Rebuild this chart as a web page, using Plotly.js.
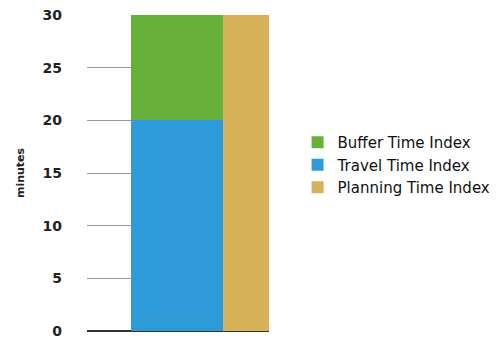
<!DOCTYPE html>
<html>
<head>
<meta charset="utf-8">
<script src="https://cdn.plot.ly/plotly-3.0.1.min.js"></script>
<style>html,body{margin:0;padding:0;background:#fff;}#chart{width:500px;height:341px;}</style>
</head>
<body>
<div id="chart"></div>
<script>
var categories = ["Commute", "Planning"];
var travelTime = [20, null];
var bufferTime = [10, null];
var planningTime = [null, 30];
var yTicks = [0, 5, 10, 15, 20, 25, 30];

var data = [
  {type: "bar", name: "Travel Time Index", x: categories, y: travelTime,
   marker: {color: "#2e9bd9"}, legendrank: 2},
  {type: "bar", name: "Buffer Time Index", x: categories, y: bufferTime,
   marker: {color: "#67b13b"}, legendrank: 1},
  {type: "bar", name: "Planning Time Index", x: categories, y: planningTime,
   marker: {color: "#d8b15b"}, legendrank: 3}
];

var layout = {
  width: 500, height: 341,
  margin: {l: 87, r: 231, t: 15, b: 10, autoexpand: false},
  paper_bgcolor: "#fff", plot_bgcolor: "#fff",
  barmode: "stack", bargap: 0,
  showlegend: true,
  legend: {x: 1.157, xanchor: "left", y: 0.525, yanchor: "middle",
    traceorder: "normal",
    font: {family: "DejaVu Sans", size: 15, color: "#111"}},
  xaxis: {type: "category", range: [-0.98, 1], showticklabels: false,
    showgrid: false, zeroline: false, showline: false, ticks: "", fixedrange: true},
  yaxis: {range: [0, 30], tickvals: yTicks, ticktext: yTicks.map(String),
    showgrid: true, gridcolor: "#999", gridwidth: 1,
    zeroline: true, zerolinecolor: "#333", zerolinewidth: 2,
    showline: false, ticks: "", ticklabelstandoff: 24,
    tickfont: {family: "DejaVu Sans", size: 14, color: "#222", weight: "bold"},
    title: {text: "minutes", standoff: 15,
      font: {family: "DejaVu Sans", size: 11, color: "#222", weight: "bold"}}}
};

Plotly.newPlot("chart", data, layout, {displayModeBar: false, staticPlot: true});
</script>
</body>
</html>
